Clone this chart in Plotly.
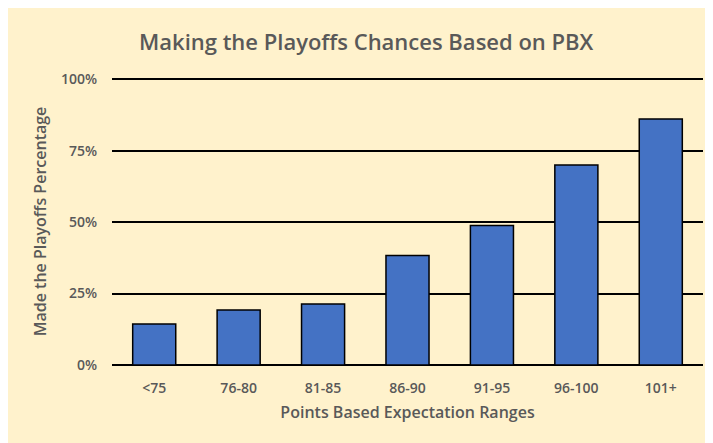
import plotly.graph_objects as go

categories = ["<75", "76-80", "81-85", "86-90", "91-95", "96-100", "101+"]
values = [0.143, 0.192, 0.213, 0.383, 0.488, 0.700, 0.861]
tick_vals = [0, 0.25, 0.5, 0.75, 1.0]
tick_text = ["0%", "25%", "50%", "75%", "100%"]

# page body has an 8px margin, so the figure is drawn 8px in from top/left
W, H = 705, 435
ML, MR, MT, MB = 104, 10, 70, 78

BG = "#FFF2CC"
TXT = "#595959"
FONT = "Open Sans"

fig = go.Figure(go.Bar(
    x=categories, y=values,
    marker=dict(color="#4472C4", line=dict(color="#000000", width=1.5)),
    width=0.51,
))

fig.update_layout(
    width=W, height=H,
    margin=dict(l=ML, r=MR, t=MT, b=MB),
    paper_bgcolor=BG, plot_bgcolor=BG,
    font=dict(family=FONT, color=TXT),
    showlegend=False,
    title=dict(text="Making the Playoffs Chances Based on PBX",
               x=0.508, xref="container", xanchor="center",
               y=1 - 34 / H, yanchor="middle",
               font=dict(family=FONT, size=22, color=TXT, weight=600)),
    xaxis=dict(showgrid=False, showline=False, zeroline=False,
               tickfont=dict(size=14, color=TXT, weight=600),
               ticklabelstandoff=13,
               title=dict(text="Points Based Expectation Ranges",
                          font=dict(size=16, color=TXT, weight=600),
                          standoff=10)),
    yaxis=dict(range=[0, 1.004], tickvals=tick_vals, ticktext=tick_text,
               showgrid=True, gridcolor="#000000", gridwidth=1.5,
               zeroline=True, zerolinecolor="#000000", zerolinewidth=1.5,
               showline=False,
               tickfont=dict(size=14, color=TXT, weight=600),
               ticklabelstandoff=14,
               title=dict(text="Made the Playoffs Percentage",
                          font=dict(size=16, color=TXT, weight=600),
                          standoff=10)),
)

fig.write_html("out.html")
